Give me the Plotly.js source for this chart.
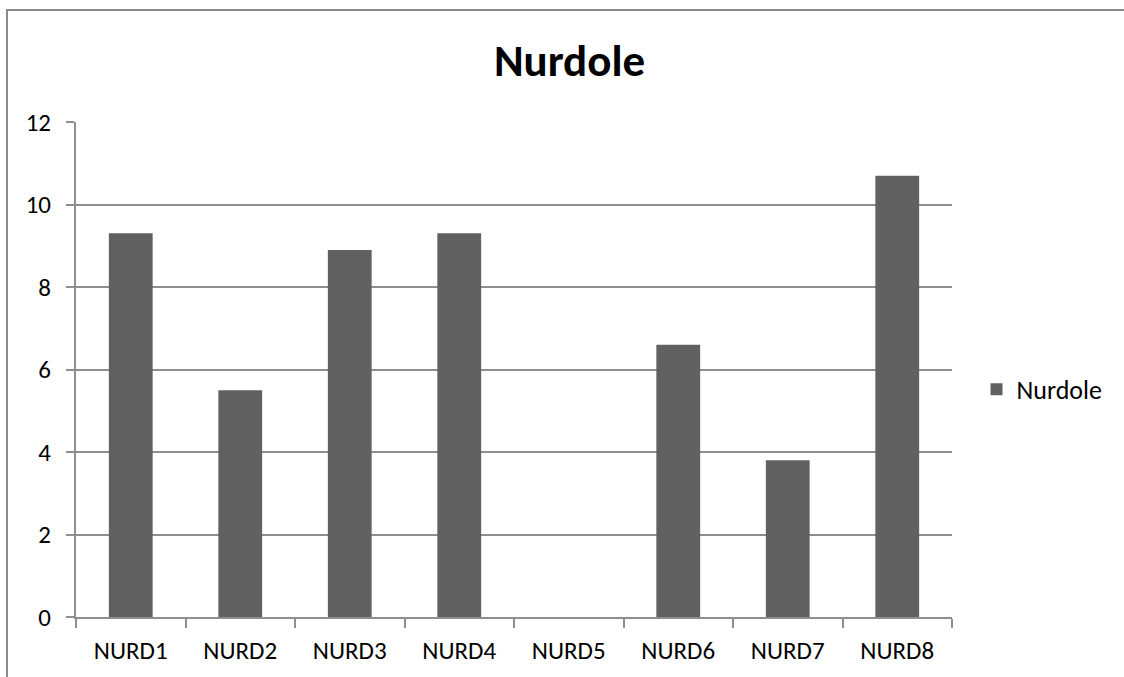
<!DOCTYPE html>
<html>
<head>
<meta charset="utf-8">
<script src="https://cdn.plot.ly/plotly-3.0.1.min.js"></script>
<style>html,body{margin:0;padding:0;background:#fff;}#chart{width:1124px;height:677px;}</style>
</head>
<body>
<div id="chart"></div>
<script>
const categories = ["NURD1","NURD2","NURD3","NURD4","NURD5","NURD6","NURD7","NURD8"];
const values = [9.3, 5.5, 8.9, 9.3, 0, 6.6, 3.8, 10.7];
const seriesName = "Nurdole";
const yTicks = [0, 2, 4, 6, 8, 10, 12];

const FONT = "Carlito, Lato, 'Open Sans', sans-serif";
const GRID = "#8e8e8e";

const trace = {
  type: "bar",
  x: categories,
  y: values,
  name: seriesName,
  marker: {color: "#616161"},
  showlegend: true,
  hoverinfo: "x+y"
};

const layout = {
  width: 1124,
  height: 677,
  paper_bgcolor: "#ffffff",
  plot_bgcolor: "#ffffff",
  margin: {l: 76, r: 172, t: 122, b: 60},
  bargap: 0.6,
  font: {family: FONT, size: 25, color: "#000"},
  title: {
    text: "<b>Nurdole</b>",
    font: {family: FONT, size: 45, color: "#000"},
    x: 0.5067, xref: "container", xanchor: "center",
    y: 0.911, yref: "container", yanchor: "middle"
  },
  xaxis: {
    type: "category",
    showgrid: false,
    showline: true,
    linecolor: GRID,
    linewidth: 2,
    ticks: "outside",
    tickson: "boundaries",
    ticklen: 9,
    tickcolor: GRID,
    tickwidth: 2,
    ticklabelstandoff: 10,
    tickfont: {family: FONT, size: 25, color: "#000"},
    zeroline: false
  },
  yaxis: {
    range: [0, 12],
    tickvals: yTicks,
    ticktext: yTicks.map(String),
    showgrid: true,
    gridcolor: GRID,
    gridwidth: 2,
    showline: true,
    linecolor: GRID,
    linewidth: 2,
    ticks: "outside",
    ticklen: 8,
    tickcolor: GRID,
    tickwidth: 2,
    ticklabelstandoff: 10,
    tickfont: {family: FONT, size: 25, color: "#000"},
    zeroline: false
  },
  legend: {
    x: 1.028, xanchor: "left",
    y: 0.46, yanchor: "middle",
    font: {family: FONT, size: 26, color: "#000"},
    bgcolor: "rgba(0,0,0,0)"
  },
  shapes: [{
    type: "rect", xref: "paper", yref: "paper",
    x0: -0.0788, x1: 1.4, y0: -0.3, y1: 1.2263,
    line: {color: "#8a8a8a", width: 2},
    fillcolor: "rgba(0,0,0,0)",
    layer: "below"
  }]
};

Plotly.newPlot("chart", [trace], layout, {displayModeBar: false, staticPlot: true});
</script>
</body>
</html>
